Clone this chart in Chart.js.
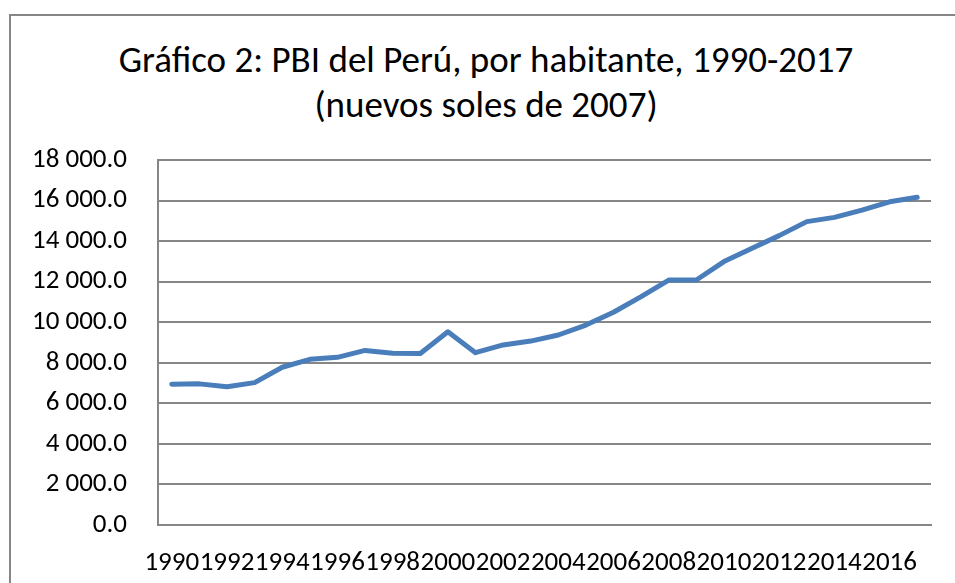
<!DOCTYPE html>
<html>
<head>
<meta charset="utf-8">
<script src="https://cdn.jsdelivr.net/npm/chart.js@4"></script>
<style>
  html, body { margin: 0; padding: 0; background: #fff; overflow: hidden; }
  #wrap { position: relative; width: 955px; height: 583px; overflow: hidden; }
  #marco { position: absolute; left: 9px; top: 14px; width: 2000px; height: 2000px; border: 2px solid #868686; }
  #titulo { position: absolute; left: 0; top: 37px; width: 972px; text-align: center;
            font-family: Carlito, "Liberation Sans", Arial, sans-serif; font-size: 37px; line-height: 45px; color: #000; }
  canvas { position: absolute; left: 0; top: 0; }
</style>
</head>
<body>
<div id="wrap">
  <div id="marco"></div>
  <div id="titulo">Gráfico 2: PBI del Perú, por habitante, 1990-2017<br>(nuevos soles de 2007)</div>
  <canvas id="grafico" width="955" height="583"></canvas>
</div>
<script>
// Años y PBI por habitante (nuevos soles de 2007)
const anios = [1990, 1991, 1992, 1993, 1994, 1995, 1996, 1997, 1998, 1999,
               2000, 2001, 2002, 2003, 2004, 2005, 2006, 2007, 2008, 2009,
               2010, 2011, 2012, 2013, 2014, 2015, 2016, 2017];
const pbiHabitante = [6940, 6960, 6820, 7020, 7780, 8170, 8270, 8610, 8470, 8460,
                      9530, 8500, 8880, 9070, 9370, 9860, 10490, 11260, 12080, 12080,
                      12990, 13640, 14270, 14960, 15170, 15530, 15940, 16160];
const ejeY = { min: 0, max: 18000, paso: 2000 };

function formatoMiles(v) {
  // 18000 -> "18 000.0"
  const partes = v.toFixed(1).split('.');
  partes[0] = partes[0].replace(/\B(?=(\d{3})+(?!\d))/g, ' ');
  return partes.join('.');
}

const fuente = { family: 'Carlito, "Liberation Sans", Arial, sans-serif', size: 27 };
const gris = '#868686';

const ctx = document.getElementById('grafico').getContext('2d');
new Chart(ctx, {
  type: 'line',
  data: {
    labels: anios.map(String),
    datasets: [{
      label: 'PBI por habitante',
      data: pbiHabitante,
      borderColor: '#4a7ebb',
      borderWidth: 5,
      borderCapStyle: 'round',
      borderJoinStyle: 'round',
      pointRadius: 0,
      tension: 0,
      fill: false
    }]
  },
  options: {
    responsive: false,
    animation: false,
    layout: { padding: { top: 160, right: 24, left: 10, bottom: 0 } },
    plugins: {
      legend: { display: false },
      title: { display: false },
      tooltip: { enabled: false }
    },
    scales: {
      x: {
        type: 'category',
        offset: true,
        grid: { display: false, drawTicks: false },
        border: { display: true, color: gris, width: 2 },
        ticks: {
          autoSkip: false,
          maxRotation: 0,
          minRotation: 0,
          padding: 22,
          color: '#000',
          font: fuente,
          callback: function (val, i) { return i % 2 === 0 ? this.getLabelForValue(val) : ''; }
        },
        afterFit: function (scale) { scale.height = 58; }
      },
      y: {
        min: ejeY.min,
        max: ejeY.max,
        grid: { color: gris, lineWidth: 2, drawTicks: false },
        border: { display: true, color: gris, width: 2 },
        ticks: {
          stepSize: ejeY.paso,
          padding: 31,
          color: '#000',
          font: fuente,
          callback: v => formatoMiles(v)
        },
        afterFit: function (scale) { scale.width = 148; }
      }
    }
  }
});
</script>
</body>
</html>
